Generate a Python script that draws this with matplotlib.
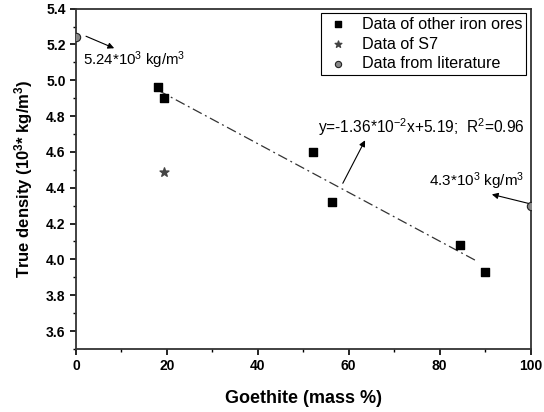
# True density vs goethite content of iron ores

import numpy as np
from matplotlib import pyplot as plt

plt.rcParams['font.family'] = ['Liberation Sans', 'DejaVu Sans']
plt.rcParams['mathtext.fontset'] = 'custom'
plt.rcParams['mathtext.rm'] = 'Liberation Sans'
plt.rcParams['mathtext.it'] = 'Liberation Sans'
plt.rcParams['mathtext.bf'] = 'Liberation Sans:bold'

# other iron ores
ore_x = [18.0, 19.4, 52.2, 56.3, 84.5, 90.0]
ore_y = [4.96, 4.90, 4.60, 4.32, 4.08, 3.93]
# sample S7
s7_x = [19.4]
s7_y = [4.49]
# literature values (hematite, goethite)
lit_x = [0.0, 100.0]
lit_y = [5.24, 4.30]
# linear fit
slope = -1.36e-2
intercept = 5.19
fit_range = [18.2, 88.2]

fig = plt.figure(figsize=(5.44, 4.12), dpi=100)
ax = fig.add_axes([0.1397, 0.153, 0.8355, 0.826])

fx = np.array(fit_range)
ax.plot(fx, slope * fx + intercept, color='#333333', lw=0.9, ls=(0, (8, 3, 1.5, 3)))
ax.scatter(ore_x, ore_y, marker='s', s=36, color='black', zorder=3,
           label='Data of other iron ores')
ax.scatter(s7_x, s7_y, marker='*', s=45, color='#444444', zorder=3,
           label='Data of S7')
ax.scatter(lit_x, lit_y, marker='o', s=36, color='#888888', edgecolor='#222222',
           lw=0.8, zorder=3, label='Data from literature')

arrow = dict(arrowstyle='-|>', color='black', lw=0.8, mutation_scale=9,
             shrinkA=0, shrinkB=0)
ax.annotate('', xy=(8.4, 5.179), xytext=(2.2, 5.246), arrowprops=arrow,
            annotation_clip=False)
ax.text(1.5, 5.11, '5.24*10$^3$ kg/m$^3$', fontsize=10.8, va='center', ha='left')

ax.annotate('', xy=(63.6, 4.665), xytext=(58.7, 4.425), arrowprops=arrow)
ax.text(98.8, 4.737, 'y=-1.36*10$^{-2}$x+5.19;  R$^2$=0.96', fontsize=11.2,
        va='center', ha='right')

ax.annotate('', xy=(91.5, 4.363), xytext=(99.5, 4.313), arrowprops=arrow,
            annotation_clip=False)
ax.text(98.6, 4.436, '4.3*10$^3$ kg/m$^3$', fontsize=11, va='center', ha='right')

ax.set_xlim(0, 100)
ax.set_ylim(3.5, 5.4)
ax.set_xticks([0, 20, 40, 60, 80, 100])
ax.set_xticks(np.arange(10, 100, 20), minor=True)
ax.set_yticks([3.6, 3.8, 4.0, 4.2, 4.4, 4.6, 4.8, 5.0, 5.2, 5.4])
ax.set_yticks(np.arange(3.5, 5.4, 0.2), minor=True)
ax.set_yticklabels(['%.1f' % v for v in ax.get_yticks()])
ax.tick_params(which='major', direction='out', length=4, width=1.2,
               labelsize=10, top=False, right=False)
ax.tick_params(which='minor', direction='out', length=2.5, width=1.0,
               top=False, right=False)
for lab in ax.get_xticklabels() + ax.get_yticklabels():
    lab.set_fontweight('bold')
for sp in ax.spines.values():
    sp.set_linewidth(1.3)
    sp.set_color('#333333')

ax.set_xlabel('Goethite (mass %)', fontsize=13, fontweight='bold', labelpad=12)
ax.set_ylabel('True density (10$^{\\mathbf{3}}$* kg/m$^{\\mathbf{3}}$)', fontsize=12,
              fontweight='bold', labelpad=8)

leg = ax.legend(loc='upper right', fontsize=11.6, frameon=True, fancybox=False,
                edgecolor='black', framealpha=1, handletextpad=0.7,
                borderpad=0.25, labelspacing=0.3, markerscale=0.75,
                borderaxespad=0.25, handlelength=1.6)
leg.get_frame().set_linewidth(0.8)

fig.savefig('out.png', dpi=100)
